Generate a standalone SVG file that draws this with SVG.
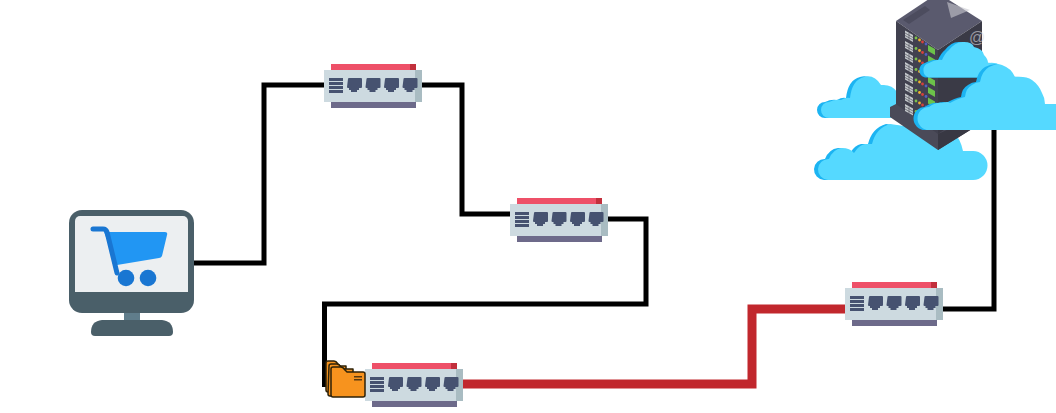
<svg xmlns="http://www.w3.org/2000/svg" xmlns:xlink="http://www.w3.org/1999/xlink" width="1056" height="413" viewBox="0 0 1056 413">
<style>
.wire{fill:none;stroke:#000;stroke-width:5}
.hot{fill:none;stroke:#c1272d;stroke-width:9}
.cd{fill:#1cb4f2}.cl{fill:#55d9ff}
.port{fill:#465270}
.folder{fill:#f7931e;stroke:#2e2208;stroke-width:1.500;stroke-linejoin:round}
</style>
<defs>
<clipPath id="page"><rect width="1056" height="413"/></clipPath>
<g id="sw">
<rect x="7" y="0" width="85" height="6" fill="#ee5068"/>
<rect x="86" y="0" width="6" height="6" fill="#c2303c"/>
<rect x="0" y="6" width="91" height="32" fill="#cddae0"/>
<rect x="91" y="6" width="7" height="32" fill="#a9bcc2"/>
<rect x="7" y="38" width="85" height="6" fill="#6d6a8a"/>
<path class="port" d="M5 14h14v3h-14zM5 18h14v3h-14zM5 22h14v3h-14zM5 26h14v3h-14z"/>
<path id="p" class="port" d="M24 15q0-1 1-1h12q1 0 1 1v8q0 1-1 1h-2v2h-2v2h-6v-2h-2v-2h-1q-1 0-1-1z"/>
<use xlink:href="#p" x="18.500"/><use xlink:href="#p" x="37"/><use xlink:href="#p" x="55.500"/>
</g>
<path id="cl1" d="M824 180A10.500 10.500 0 0 1 825 159Q829 149 838 148Q846 148 850 153Q855 145 861 144H868Q872 128 886 124L949 133Q956 137 959 151H969A13.500 13.500 0 0 1 969 180z"/>
<path id="cl2" d="M825 118A7.500 7.500 0 0 1 825 102Q831 99 837 100Q842 97 846 98Q848 80 860 77Q870 74 877 85Q888 84 893 92V118z"/>
<path id="cl3" d="M925 77.500A7.500 7.500 0 0 1 925 63Q933 59 938 60Q941 53 945 50Q952 41 960 42Q968 42 970 47Q979 49 980 55Q984 59 984 63Q992 62 996 65L985 77.500z"/>
<path id="cl4" d="M925 130A11 11 0 0 1 925 107Q932 102 938 103Q944 101 946 103Q955 98 961 97Q962 88 968 85Q972 82 976 82Q978 71 985 67Q993 63 998 65Q1007 68 1011 77Q1022 76 1028 80Q1035 85 1038 93Q1041 98 1041 104H1056V130z"/>
</defs>
<g id="connectors">
<path class="wire" d="M194 263H264V85H325"/>
<path class="wire" d="M421 85H462V214H511"/>
<path class="wire" d="M606 219H646V304H324.500V387"/>
<path class="hot" d="M462 384H752V309H846"/>
<path class="wire" d="M942 309H994V128"/>
</g>
<g id="monitor">
<rect x="69" y="210" width="125" height="103" rx="13" fill="#4a5f69"/>
<path d="M75 221a5 5 0 0 1 5-5h103a5 5 0 0 1 5 5v71H75z" fill="#eceff1"/>
<rect x="124" y="313" width="16" height="8" fill="#607d8b"/>
<path d="M102 320h60q11 1 11 12 0 4-4 4H95q-4 0-4-4 0-11 11-12z" fill="#4a5f69"/>
<path d="M104 232h61q3 0 2 3l-5 21q-1 2-3 2l-42 7z" fill="#2196f3"/>
<path d="M93 229h10q3 0 4 3l10 41" fill="none" stroke="#1976d2" stroke-width="5" stroke-linecap="round" stroke-linejoin="round"/>
<circle cx="126" cy="278" r="8.300" fill="#1976d2"/>
<circle cx="148" cy="278" r="8.300" fill="#1976d2"/>
</g>
<g id="switch1"><use xlink:href="#sw" x="324" y="64"/></g>
<g id="switch2"><use xlink:href="#sw" x="510" y="198"/></g>
<g id="switch3"><use xlink:href="#sw" x="365" y="363"/></g>
<g id="switch4"><use xlink:href="#sw" x="845" y="282"/></g>
<g id="folder">
<path class="folder" d="M326 363q0-2 2-2h6q2 0 4 3l2 2h6v26h-18q-2 0-2-2z"/>
<path class="folder" d="M329 366q0-2 2-2h6q2 0 4 3l2 2h10v27h-23q-2 0-2-2z"/>
<path class="folder" d="M331 369q0-2 2-2h8q2 0 4 3l2 2h16q2 0 2 2v21q0 2-2 2h-30q-2 0-2-2z"/>
<rect x="354" y="376" width="8" height="1.500" fill="#5a3a10"/>
<rect x="354" y="379" width="8" height="1.500" fill="#5a3a10"/>
</g>
<g id="cloud-back">
<use xlink:href="#cl2" class="cd"/><use xlink:href="#cl2" class="cl" x="4"/>
<use xlink:href="#cl1" class="cd"/><use xlink:href="#cl1" class="cl" x="4"/>
</g>
<g id="server">
<path d="M896 21L938 -7 982 21 938 50z" fill="#5a5a6e"/>
<path d="M903 20L925 6 930 10 909 24z" fill="#4c4c5e"/>
<path d="M896 21L938 50V140L896 108z" fill="#41414f"/>
<path d="M982 21L938 50V140L982 108z" fill="#3a3a46"/>
<path d="M890 107L896 104 938 134 973 110 980 115V124L938 150 890 117z" fill="#4a4a58"/>
<path d="M938 134V150L980 124V115z" fill="#383843"/>
<g id="r">
<path d="M905 30.500l8 4.500v7l-8-4.500z" fill="#c4c8cc"/>
<path d="M905 33l8 4.500M905 35.500l8 4.500M909 33v7" stroke="#55555f" stroke-width=".7" fill="none"/>
<circle cx="916" cy="38" r="1.400" fill="#7cc24a"/><circle cx="919.500" cy="40" r="1.400" fill="#f0b030"/><circle cx="922.500" cy="42" r="1.400" fill="#d8403c"/><circle cx="926" cy="44" r="1.400" fill="#5060c0"/>
<path d="M928 45l7 4v6l-7-4z" fill="#6cc24a"/>
</g>
<use xlink:href="#r" y="10.500"/><use xlink:href="#r" y="21"/><use xlink:href="#r" y="31.500"/><use xlink:href="#r" y="42"/><use xlink:href="#r" y="52.500"/><use xlink:href="#r" y="63"/><use xlink:href="#r" y="73.500"/>
</g>
<g id="cloud-front" clip-path="url(#page)">
<use xlink:href="#cl3" class="cd"/><use xlink:href="#cl3" class="cl" x="4"/>
<use xlink:href="#cl4" class="cd"/><use xlink:href="#cl4" class="cl" x="4"/>
</g>
<g id="watermark" opacity=".6">
<path d="M947 2L970 10 951 18z" fill="#c9c9d0"/>
<text x="969" y="43" font-family="'Liberation Sans',sans-serif" font-size="16" fill="#d8d8de">@</text>
</g>
</svg>
